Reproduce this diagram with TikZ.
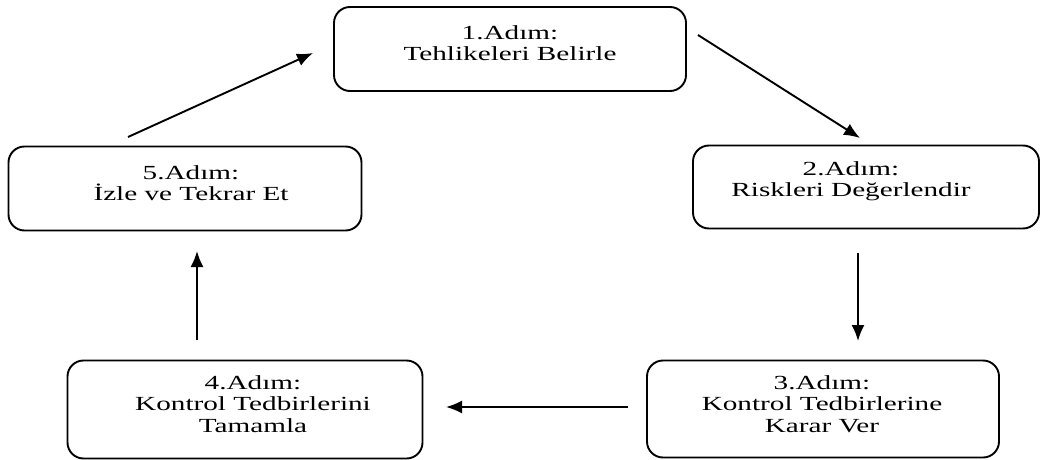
\documentclass[tikz,border=0pt]{standalone}
\usepackage{fontspec}
\setmainfont{Liberation Serif}
\newfontfamily\widefont[FakeStretch=1.46]{Liberation Serif}
\usetikzlibrary{arrows.meta}
\tikzset{
  stepbox/.style={draw=black, line width=1.9pt, rounded corners=16pt, inner sep=0pt},
  steptext/.style={align=center, inner sep=0pt, font=\widefont\fontsize{20}{21.5}\selectfont},
  flow/.style={line width=1.9pt, -{Latex[length=16pt,width=13pt]}}
}
\begin{document}
\begin{tikzpicture}[x=1pt,y=-1pt]
\useasboundingbox (0,0) rectangle (1041,460);
% boxes
\node[stepbox, minimum width=352pt, minimum height=84pt] (b1) at (510,49) {};
\node[stepbox, minimum width=346pt, minimum height=83pt] (b2) at (866,187) {};
\node[stepbox, minimum width=352pt, minimum height=97pt] (b3) at (823,409) {};
\node[stepbox, minimum width=355pt, minimum height=98pt] (b4) at (245,409.5) {};
\node[stepbox, minimum width=353pt, minimum height=84pt] (b5) at (185,188.5) {};
% texts
\node[steptext] (t1) at (510,43) {1.Adım:\\Tehlikeleri Belirle};
\node[steptext] (t2) at (851,181) {2.Adım:\\Riskleri Değerlendir};
\node[steptext] (t3) at (822,404) {3.Adım:\\Kontrol Tedbirlerine\\Karar Ver};
\node[steptext] (t4) at (253,404) {4.Adım:\\Kontrol Tedbirlerini\\Tamamla};
\node[steptext] (t5) at (191,183) {5.Adım:\\İzle ve Tekrar Et};
% arrow endpoints
\coordinate (a1s) at (698,35);  \coordinate (a1e) at (860,138);
\coordinate (a2s) at (858,253); \coordinate (a2e) at (858,341);
\coordinate (a3s) at (628,407); \coordinate (a3e) at (446,407);
\coordinate (a4s) at (197,340); \coordinate (a4e) at (197,251);
\coordinate (a5s) at (128,137); \coordinate (a5e) at (313,53);
\draw[flow] (a1s) -- (a1e);
\draw[flow] (a2s) -- (a2e);
\draw[flow] (a3s) -- (a3e);
\draw[flow] (a4s) -- (a4e);
\draw[flow] (a5s) -- (a5e);
\end{tikzpicture}
\end{document}
